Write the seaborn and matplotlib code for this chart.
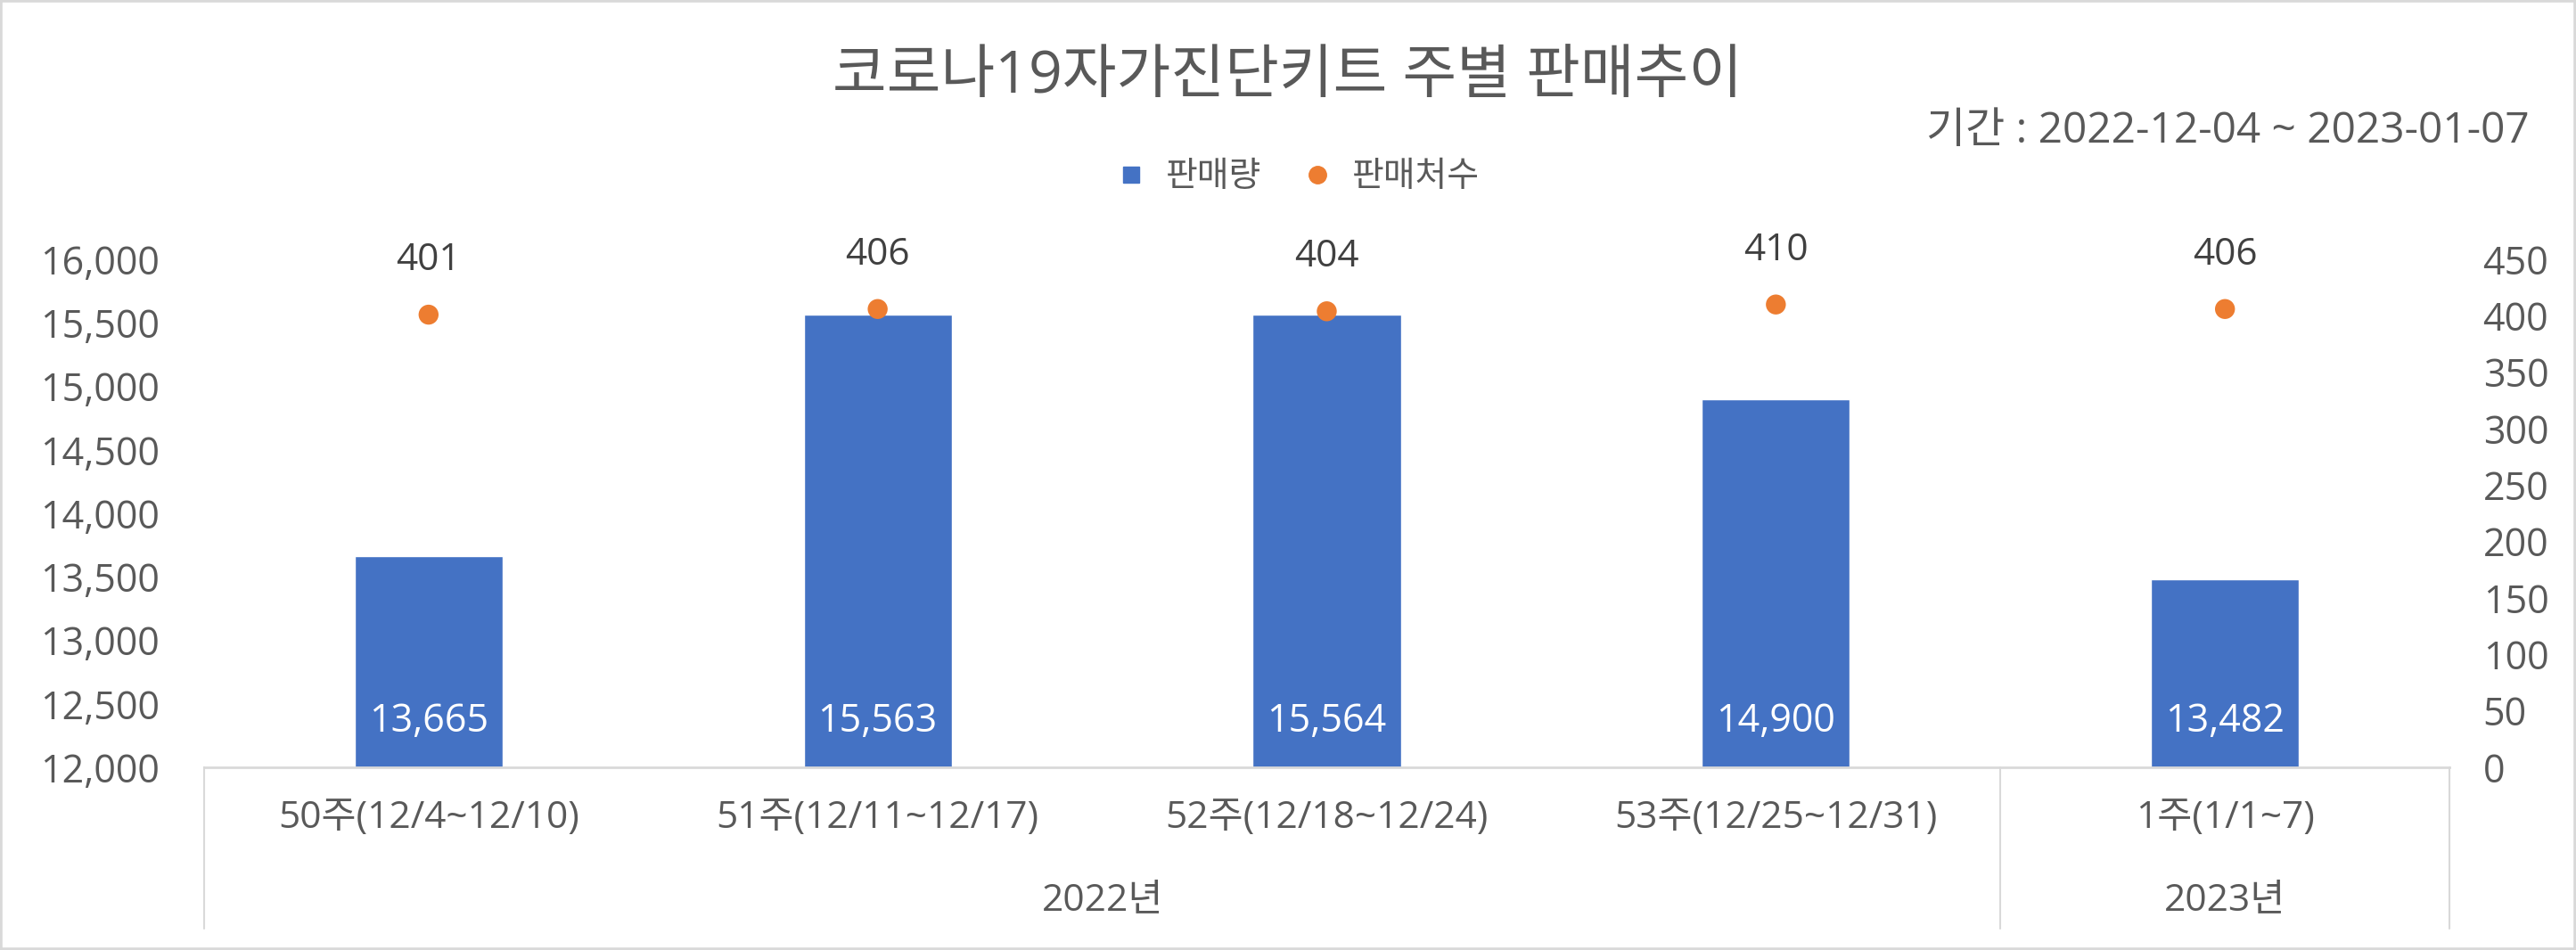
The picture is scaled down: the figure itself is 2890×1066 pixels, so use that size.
import numpy as np
import pandas as pd
import matplotlib
matplotlib.use('Agg')
import matplotlib.pyplot as plt
import seaborn as sns
from matplotlib.lines import Line2D
from matplotlib.patches import Rectangle

# data
weeks = ['50주(12/4~12/10)', '51주(12/11~12/17)', '52주(12/18~12/24)', '53주(12/25~12/31)', '1주(1/1~7)']
years = ['2022년', '2022년', '2022년', '2022년', '2023년']
sales = [13665, 15563, 15564, 14900, 13482]      # 판매량
shops = [401, 406, 404, 410, 406]                # 판매처수

left_ticks = [12000, 12500, 13000, 13500, 14000, 14500, 15000, 15500, 16000]
right_ticks = [0, 50, 100, 150, 200, 250, 300, 350, 400, 450]

df = pd.DataFrame({'week': weeks, 'year': years, 'sales': sales, 'shops': shops})
df['pos'] = np.arange(len(df))

sns.set_theme(style='white')
plt.rcParams['font.family'] = ['Open Sans', 'Noto Sans CJK KR', 'DejaVu Sans']

blue = '#4472C4'
orange = '#ED7D31'
grey_txt = '#595959'
line_col = '#D9D9D9'

fig = plt.figure(figsize=(28.9, 10.66), dpi=100)
ax = fig.add_axes([0.0792, 0.1923, 0.8717, 0.5347])

sns.barplot(data=df, x='pos', y='sales', color=blue, width=0.33, saturation=1, ax=ax)
ax.set_xlim(-0.5, len(df) - 0.5)
ax.set_ylim(left_ticks[0], left_ticks[-1])
ax.set_yticks(left_ticks)
ax.set_yticklabels([f'{v:,}' for v in left_ticks])
ax.set_xticks([])
ax.set_xlabel('')
ax.set_ylabel('')
ax.tick_params(axis='y', length=0, pad=36, labelsize=31, labelcolor=grey_txt)

for s in ['top', 'left', 'right']:
    ax.spines[s].set_visible(False)
ax.spines['bottom'].set_color(line_col)
ax.spines['bottom'].set_linewidth(2)

# bar value labels near the bottom of each bar
for i, v in enumerate(sales):
    ax.annotate(f'{v:,}', xy=(i, left_ticks[0]), xytext=(0, 37), textcoords='offset points',
                ha='center', va='center', color='white', fontsize=31)

ax2 = ax.twinx()
sns.scatterplot(data=df, x='pos', y='shops', color=orange, s=260, edgecolor='none', ax=ax2, zorder=5)
ax2.set_ylim(right_ticks[0], right_ticks[-1])
ax2.set_yticks(right_ticks)
ax2.set_xlim(-0.5, len(df) - 0.5)
ax2.set_ylabel('')
ax2.set_xlabel('')
ax2.tick_params(axis='y', length=0, pad=27, labelsize=31, labelcolor=grey_txt)
for s in ['top', 'left', 'right', 'bottom']:
    ax2.spines[s].set_visible(False)

for i, v in enumerate(shops):
    ax2.annotate(str(v), xy=(i, v), xytext=(0, 44), textcoords='offset points',
                 ha='center', va='center', color='#404040', fontsize=30.5)

# multi-level category axis
tr = ax.get_xaxis_transform()
for i, w in enumerate(weeks):
    ax.text(i, -0.1, w, transform=tr, ha='center', va='center', fontsize=30.5, color=grey_txt)

groups = df.groupby('year', sort=False)['pos'].agg(['min', 'max'])
bounds = [-0.5] + [g + 0.5 for g in groups['max']]
for b in bounds:
    ax.plot([b, b], [0, -0.3175], transform=tr, color=line_col, lw=1.5, clip_on=False)
for yr, row in groups.iterrows():
    ax.text((row['min'] + row['max']) / 2, -0.261, yr, transform=tr, ha='center', va='center',
            fontsize=30.5, color=grey_txt)

fig.text(0.5, 0.918, '코로나19자가진단키트 주별 판매추이', ha='center', va='center', fontsize=47.5, color=grey_txt)
fig.text(0.982, 0.862, '기간 : 2022-12-04 ~ 2023-01-07', ha='right', va='center', fontsize=34.5, color=grey_txt)

handles = [Line2D([], [], marker='s', linestyle='none', color=blue, markersize=13),
           Line2D([], [], marker='o', linestyle='none', color=orange, markersize=14)]
fig.legend(handles, ['판매량', '판매처수'], loc='center', bbox_to_anchor=(0.5, 0.813), ncol=2,
           frameon=False, fontsize=28, labelcolor=grey_txt, handletextpad=0.0, columnspacing=0.6)

fig.patches.append(Rectangle((0, 0), 1, 1, transform=fig.transFigure, fill=False,
                             edgecolor=line_col, linewidth=4, zorder=10))

fig.savefig('out.png', dpi=100, facecolor='white')
